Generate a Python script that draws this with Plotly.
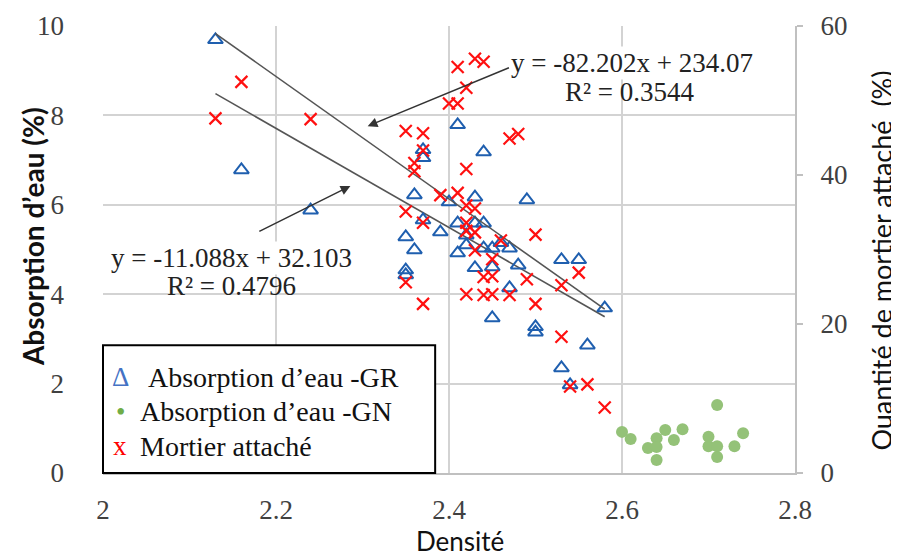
import plotly.graph_objects as go

# ---- data ----
gr_density = [2.13, 2.16, 2.24, 2.41, 2.44, 2.37, 2.37, 2.36, 2.40, 2.43, 2.49, 2.37, 2.35, 2.39,
              2.41, 2.43, 2.44, 2.42, 2.42, 2.36, 2.41, 2.44, 2.45, 2.47, 2.46, 2.43, 2.45, 2.48,
              2.35, 2.35, 2.47, 2.53, 2.55, 2.58, 2.45, 2.50, 2.50, 2.56, 2.53, 2.54]
gr_absorption = [9.69, 6.78, 5.88, 7.79, 7.18, 7.23, 7.05, 6.22, 6.06, 6.17, 6.11, 5.66, 5.28, 5.39,
                 5.59, 5.59, 5.59, 5.32, 5.10, 4.99, 4.92, 5.03, 5.03, 5.03, 5.15, 4.59, 4.61, 4.65,
                 4.54, 4.43, 4.14, 4.77, 4.77, 3.69, 3.47, 3.27, 3.15, 2.86, 2.35, 1.97]

gn_density = [2.60, 2.61, 2.63, 2.64, 2.64, 2.64, 2.65, 2.66, 2.67, 2.70, 2.70, 2.71, 2.71, 2.71,
              2.73, 2.74]
gn_absorption = [0.92, 0.76, 0.56, 0.78, 0.58, 0.29, 0.96, 0.74, 0.98, 0.81, 0.60, 1.52, 0.60, 0.36,
                 0.60, 0.89]

mort_density = [2.16, 2.13, 2.24, 2.41, 2.43, 2.44, 2.42, 2.40, 2.41, 2.35, 2.37, 2.37, 2.36, 2.36,
                2.42, 2.47, 2.48, 2.39, 2.41, 2.35, 2.37, 2.42, 2.43, 2.42, 2.43, 2.42, 2.46, 2.50,
                2.43, 2.45, 2.44, 2.45, 2.49, 2.53, 2.55, 2.35, 2.37, 2.42, 2.44, 2.45, 2.47, 2.50,
                2.53, 2.54, 2.56, 2.58]
mort_content = [52.5, 47.6, 47.5, 54.5, 55.6, 55.2, 51.7, 49.6, 49.6, 45.9, 45.6, 43.3, 41.6, 40.5,
                40.8, 44.9, 45.5, 37.3, 37.6, 35.1, 33.6, 35.9, 35.5, 33.6, 32.3, 32.5, 31.2, 32.0,
                29.9, 28.7, 26.3, 26.4, 26.0, 25.2, 26.9, 25.6, 22.7, 24.0, 23.9, 24.0, 23.9, 22.7,
                18.3, 11.6, 11.9, 8.8]

# trend lines (endpoints from the displayed equations)
trend_x = [2.13, 2.58]
trend_mort = [58.98, 21.99]     # y = -82.202x + 234.07
trend_gr = [8.486, 3.496]       # y = -11.088x + 32.103

x_ticks = [2, 2.2, 2.4, 2.6, 2.8]
x_ticklabels = ["2", "2.2", "2.4", "2.6", "2.8"]

legend_names = ["Absorption d’eau -GR", "Absorption d’eau -GN", "Mortier attaché"]
legend_symbols = ["Δ", "•", "x"]
legend_colors = ["#4472C4", "#70AD47", "#FF0000"]

SERIF = "Liberation Serif, Times New Roman, serif"
SANS = "Lato, Open Sans, sans-serif"
TICK_COL = "#404040"
GRID = "#D3D3D3"

fig = go.Figure()

fig.add_trace(go.Scatter(x=trend_x, y=trend_mort, yaxis="y2", mode="lines",
                         line=dict(color="#555555", width=1.6), showlegend=False, hoverinfo="skip"))
fig.add_trace(go.Scatter(x=trend_x, y=trend_gr, mode="lines",
                         line=dict(color="#555555", width=1.6), showlegend=False, hoverinfo="skip"))

fig.add_trace(go.Scatter(x=gr_density, y=gr_absorption, mode="markers", name=legend_names[0],
                         showlegend=False,
                         marker=dict(symbol="triangle-up-open", size=13, color="#1F5FAF",
                                     line=dict(width=2, color="#1F5FAF"))))
fig.add_trace(go.Scatter(x=gn_density, y=gn_absorption, mode="markers", name=legend_names[1],
                         showlegend=False,
                         marker=dict(symbol="circle", size=12, color="#94C278")))
fig.add_trace(go.Scatter(x=mort_density, y=mort_content, yaxis="y2", mode="markers",
                         name=legend_names[2], showlegend=False,
                         marker=dict(symbol="x-thin-open", size=12, color="#FF1010",
                                     line=dict(width=2.2, color="#FF1010"))))

annotations = [
    # axis titles
    dict(text="Densité", xref="paper", yref="paper", x=0.516, y=-0.152, xanchor="center",
         yanchor="middle", showarrow=False, font=dict(family=SANS, size=26, color="#111111")),
    dict(text="<b>Absorption d’eau (%)</b>", xref="paper", yref="paper", x=-0.101, y=0.528,
         xanchor="center", yanchor="middle", textangle=-90, showarrow=False,
         font=dict(family=SANS, size=28, color="#111111")),
    dict(text="Quantité de mortier attaché  (%)", xref="paper", yref="paper", x=1.125, y=0.474,
         xanchor="center", yanchor="middle", textangle=-90, showarrow=False,
         font=dict(family=SANS, size=27, color="#111111")),
    # equations
    dict(text="y = -82.202x + 234.07", x=2.6116, y=9.17, xref="x", yref="y",
         showarrow=False, bgcolor="white", font=dict(family=SERIF, size=27, color="#222222")),
    dict(text="R² = 0.3544", x=2.609, y=8.52, xref="x", yref="y",
         showarrow=False, font=dict(family=SERIF, size=27, color="#222222")),
    dict(text="y = -11.088x + 32.103", x=2.149, y=4.81, xref="x", yref="y",
         showarrow=False, bgcolor="white", font=dict(family=SERIF, size=27, color="#222222")),
    dict(text="R² = 0.4796", x=2.149, y=4.18, xref="x", yref="y",
         showarrow=False, font=dict(family=SERIF, size=27, color="#222222")),
    # arrows
    dict(x=2.306, y=7.76, ax=2.471, ay=9.08, xref="x", yref="y", axref="x", ayref="y",
         text="", showarrow=True, arrowhead=2, arrowsize=1.3, arrowwidth=1.5, arrowcolor="#333333"),
    dict(x=2.286, y=6.42, ax=2.179, ay=5.39, xref="x", yref="y", axref="x", ayref="y",
         text="", showarrow=True, arrowhead=2, arrowsize=1.3, arrowwidth=1.5, arrowcolor="#333333"),
]

# legend (text glyph symbols as in the reference)
leg_y = [0.2145, 0.1365, 0.0595]
leg_text_x = [0.062, 0.0505, 0.0505]
for name, sym, col, yy, tx in zip(legend_names, legend_symbols, legend_colors, leg_y, leg_text_x):
    annotations.append(dict(text=sym, xref="paper", yref="paper", x=0.0246, y=yy,
                            xanchor="center", yanchor="middle", showarrow=False,
                            font=dict(family=SERIF, size=27, color=col)))
    annotations.append(dict(text=name, xref="paper", yref="paper", x=tx, y=yy,
                            xanchor="left", yanchor="middle", showarrow=False,
                            font=dict(family=SERIF, size=28, color="#111111")))

fig.update_layout(
    width=899, height=556,
    margin=dict(l=95, r=112, t=18, b=91),
    paper_bgcolor="white", plot_bgcolor="white",
    showlegend=False,
    xaxis=dict(range=[2, 2.8], tickvals=x_ticks, ticktext=x_ticklabels, automargin=False,
               showgrid=True, gridcolor=GRID, gridwidth=2, zeroline=False,
               showline=True, linecolor="#C0C0C0", linewidth=2,
               tickfont=dict(family=SERIF, size=27, color=TICK_COL),
               ticks="", ticklabelstandoff=12),
    yaxis=dict(range=[0, 10], dtick=2, showgrid=True, gridcolor=GRID, gridwidth=2, automargin=False,
               zeroline=False, showline=False,
               tickfont=dict(family=SERIF, size=27, color=TICK_COL),
               ticks="", ticklabelstandoff=38),
    yaxis2=dict(range=[0, 60], dtick=20, overlaying="y", side="right", showgrid=False,
                automargin=False,
                zeroline=False, showline=True, linecolor="#C0C0C0", linewidth=2,
                ticks="outside", ticklen=6, tickcolor="#C0C0C0", tickwidth=2,
                tickfont=dict(family=SERIF, size=27, color=TICK_COL), ticklabelstandoff=12),
    shapes=[dict(type="rect", xref="paper", yref="paper", x0=0.0, x1=0.48, y0=0.0, y1=0.286,
                 line=dict(color="black", width=2), fillcolor="white", layer="above")],
    annotations=annotations,
)

fig.write_html("out.html")
